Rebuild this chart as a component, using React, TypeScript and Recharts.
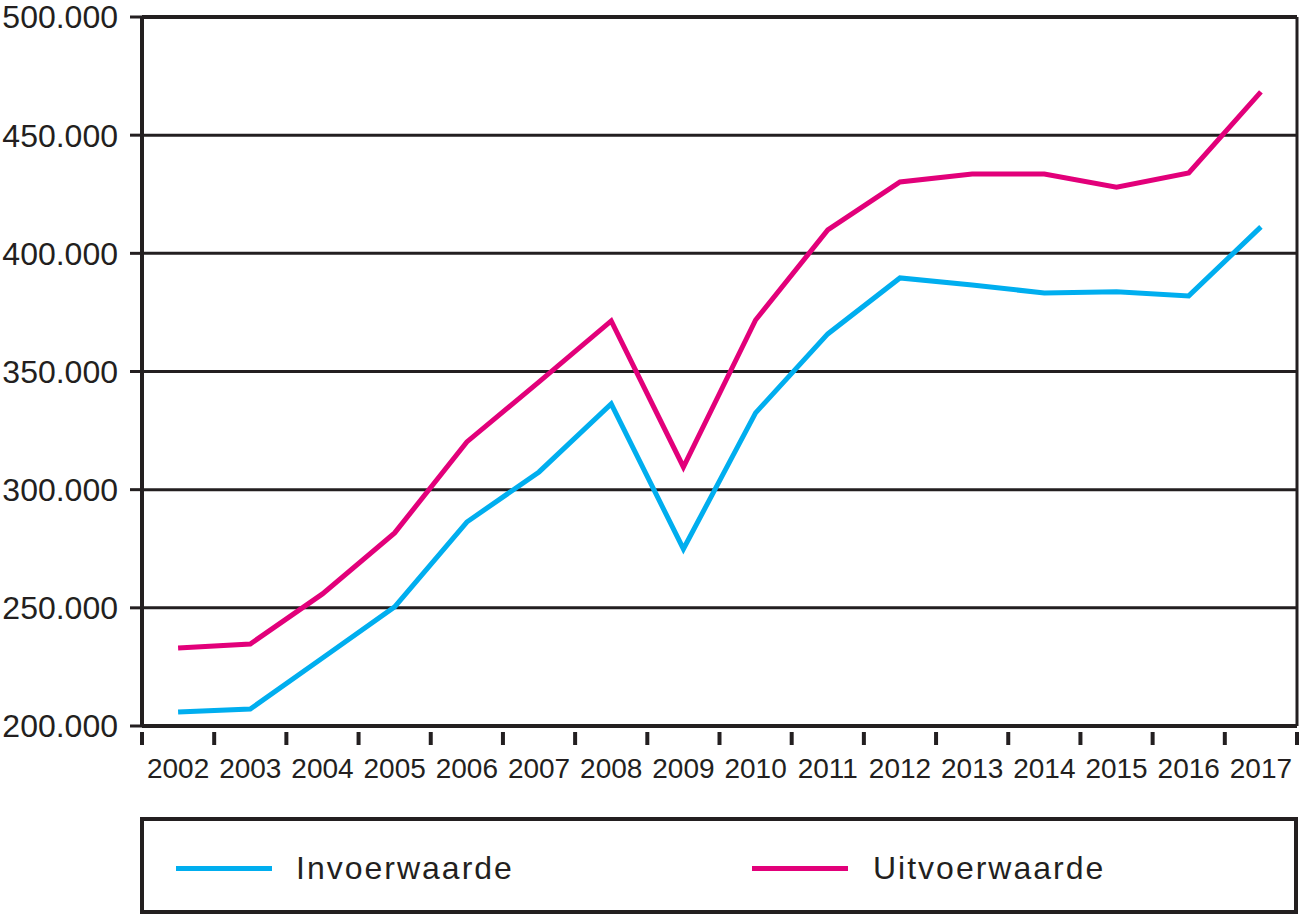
import React from 'react';
import { LineChart, Line, XAxis, YAxis, CartesianGrid, ReferenceLine, Legend } from 'recharts';

const years = ['2002','2003','2004','2005','2006','2007','2008','2009','2010','2011','2012','2013','2014','2015','2016','2017'];
const invoer = [205900, 207200, 228800, 250400, 286300, 307500, 336300, 274900, 332500, 365900, 389600, 386600, 383200, 383700, 382000, 411200];
const uitvoer = [233000, 234700, 255900, 281700, 320200, 345600, 371400, 309600, 371800, 409900, 430200, 433600, 433600, 428000, 434000, 468300];
const yTicks = [200000, 250000, 300000, 350000, 400000, 450000, 500000];

const data = years.map((y, i) => ({ year: y, invoer: invoer[i], uitvoer: uitvoer[i] }));

const INK = '#231f20';
const BLUE = '#00aeef';
const PINK = '#e2007a';
const FONT = '"Liberation Sans", Arial, sans-serif';

const fmt = (v: number) => String(v).replace(/\B(?=(\d{3})+(?!\d))/g, '.');

const XTick = (props: any) => {
  const { x, y, payload, index } = props;
  const half = payload && payload.offset ? payload.offset : 36.1;
  return (
    <g>
      <line x1={x - half} x2={x - half} y1={y - 2} y2={y + 11} stroke={INK} strokeWidth={4} />
      {index === years.length - 1 && (
        <line x1={x + half} x2={x + half} y1={y - 2} y2={y + 11} stroke={INK} strokeWidth={4} />
      )}
      <text x={x} y={y + 44} textAnchor="middle" fontSize={28} fontFamily={FONT} fill={INK}>
        {payload.value}
      </text>
    </g>
  );
};

const LegendBox = () => (
  <div
    style={{
      boxSizing: 'border-box',
      width: 1158,
      height: 97,
      border: `4px solid ${INK}`,
      position: 'relative',
      fontFamily: FONT,
      background: '#fff',
    }}
  >
    <div style={{ position: 'absolute', left: 32, top: 45, width: 96, height: 5, background: BLUE }} />
    <div style={{ position: 'absolute', left: 152, top: 27, fontSize: 32, letterSpacing: 2, color: INK, lineHeight: '40px' }}>
      Invoerwaarde
    </div>
    <div style={{ position: 'absolute', left: 608, top: 45, width: 96, height: 5, background: PINK }} />
    <div style={{ position: 'absolute', left: 729, top: 27, fontSize: 32, letterSpacing: 2, color: INK, lineHeight: '40px' }}>
      Uitvoerwaarde
    </div>
  </div>
);

export default function App() {
  return (
    <div style={{ position: 'absolute', left: 0, top: 0 }}>
      <LineChart width={1301} height={917} data={data} margin={{ top: 17, right: 0, bottom: 141, left: 0 }}>
        <CartesianGrid vertical={false} stroke={INK} strokeWidth={3} />
        <XAxis
          dataKey="year"
          scale="band"
          axisLine={{ stroke: INK, strokeWidth: 4 }}
          tickLine={false}
          tick={<XTick />}
          height={50}
          interval={0}
        />
        <YAxis
          domain={[200000, 500000]}
          ticks={yTicks}
          tickFormatter={fmt}
          axisLine={{ stroke: INK, strokeWidth: 4 }}
          tickLine={{ stroke: INK, strokeWidth: 3 }}
          tickSize={12}
          tickMargin={12}
          width={142}
          interval={0}
          tick={{ fontSize: 32, fontFamily: FONT, fill: INK }}
        />
        <YAxis
          yAxisId="r"
          orientation="right"
          domain={[200000, 500000]}
          width={4}
          tick={false}
          tickLine={false}
          axisLine={{ stroke: INK, strokeWidth: 3 }}
        />
        <ReferenceLine y={500000} stroke={INK} strokeWidth={4} />
        <Line type="linear" dataKey="invoer" name="Invoerwaarde" stroke={BLUE} strokeWidth={5} dot={false} isAnimationActive={false} />
        <Line type="linear" dataKey="uitvoer" name="Uitvoerwaarde" stroke={PINK} strokeWidth={5} dot={false} isAnimationActive={false} />
        <Legend
          layout="vertical"
          align="center"
          verticalAlign="middle"
          content={<LegendBox />}
          wrapperStyle={{ left: 140, top: 817, width: 1158, height: 97 }}
        />
      </LineChart>
    </div>
  );
}
